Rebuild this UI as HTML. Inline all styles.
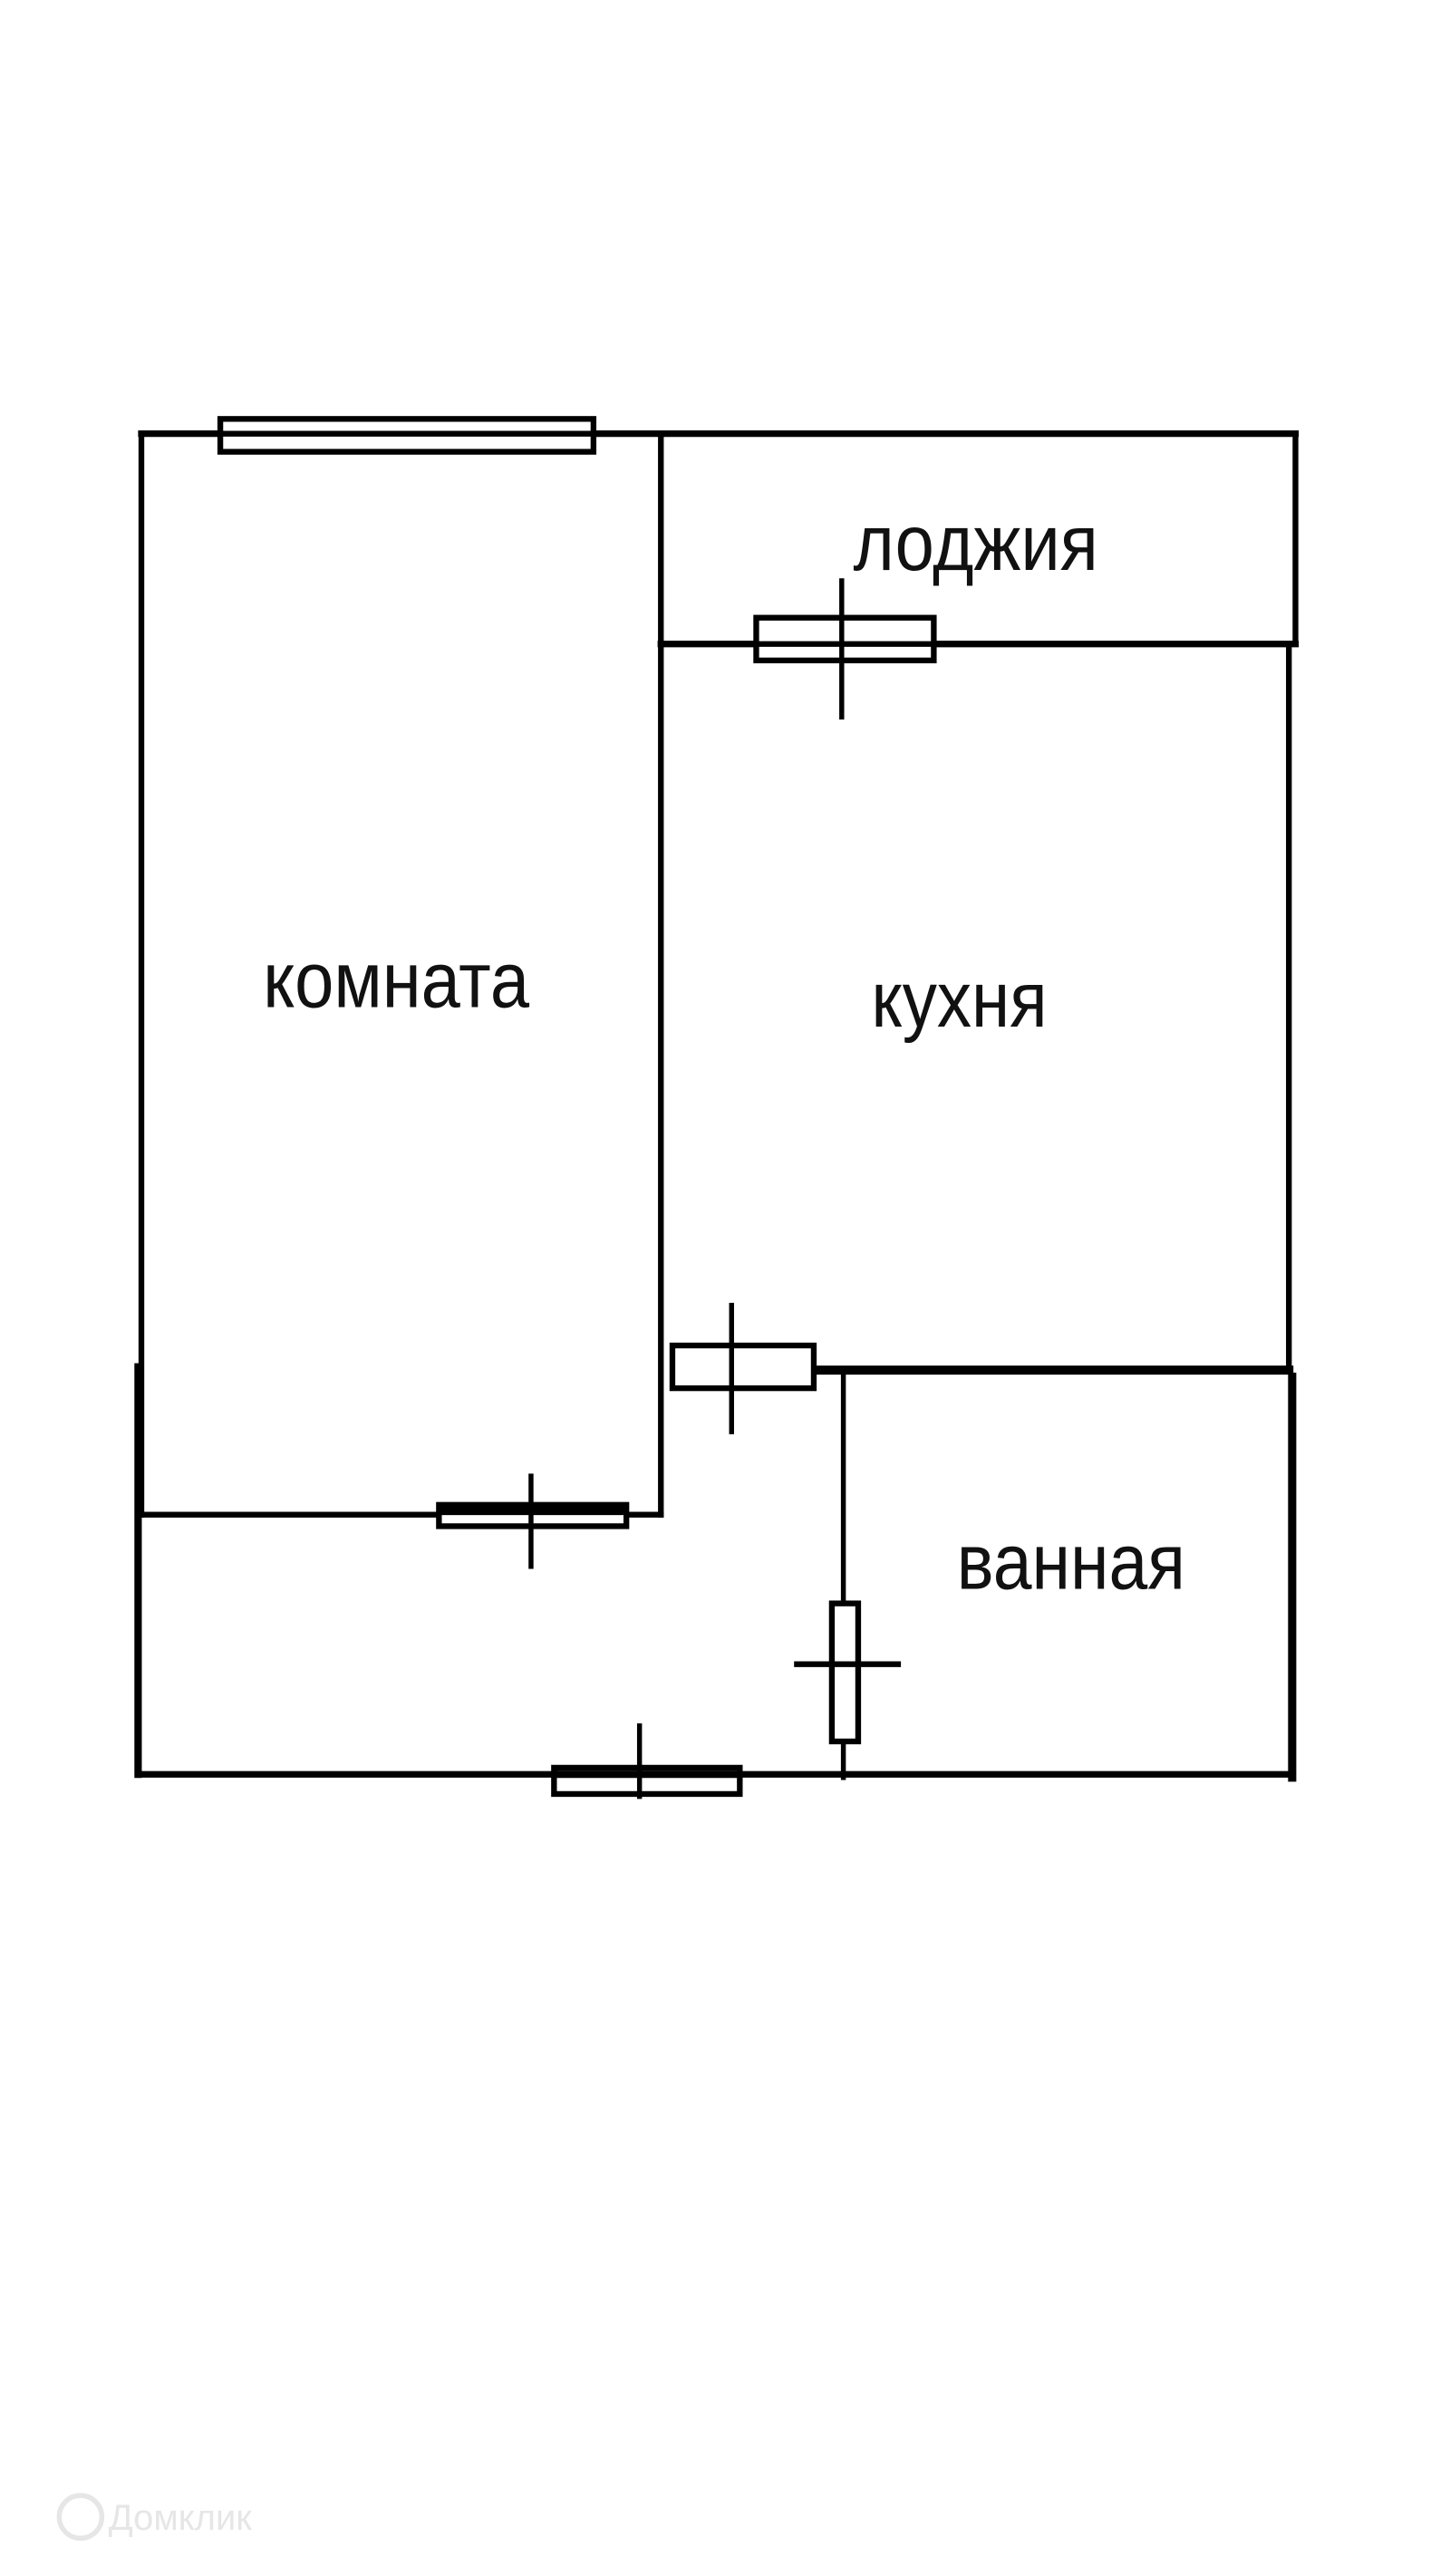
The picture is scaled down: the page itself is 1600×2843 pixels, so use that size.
<!DOCTYPE html>
<html><head><meta charset="utf-8"><style>
html,body{margin:0;padding:0;background:#fff;}
svg{display:block;}
text{font-family:"Liberation Sans",Arial,sans-serif;fill:#111;}
</style></head><body>
<svg width="1600" height="2843" viewBox="0 0 882 1568" preserveAspectRatio="none" xmlns="http://www.w3.org/2000/svg">
<rect width="882" height="1568" fill="#fff"/>
<g stroke="#000" fill="none" stroke-linecap="square">
<line x1="86" y1="264" x2="788" y2="264" stroke-width="4"/>
<line x1="86" y1="264" x2="86" y2="922" stroke-width="3.5"/>
<line x1="84" y1="832" x2="84" y2="1080" stroke-width="4.5"/>
<line x1="402" y1="264" x2="402" y2="922" stroke-width="3.5"/>
<line x1="788" y1="264" x2="788" y2="392" stroke-width="3.5"/>
<line x1="402" y1="392" x2="788" y2="392" stroke-width="4"/>
<line x1="784" y1="392" x2="784" y2="833" stroke-width="3.5"/>
<line x1="495" y1="834" x2="784" y2="834" stroke-width="5.5"/>
<line x1="86" y1="922" x2="402" y2="922" stroke-width="3.5"/>
<line x1="513" y1="838" x2="513" y2="1082" stroke-width="3"/>
<line x1="786" y1="838" x2="786" y2="1082" stroke-width="5"/>
<line x1="84" y1="1080" x2="786" y2="1080" stroke-width="4"/>
</g>
<g stroke="#000" fill="#fff" stroke-width="3.5">
<rect x="134" y="255" width="227" height="20"/>
<line x1="134" y1="264" x2="361" y2="264"/>
<rect x="460" y="376" width="108" height="26"/>
<line x1="460" y1="392" x2="568" y2="392"/>
<line x1="512" y1="352" x2="512" y2="438" stroke-width="3"/>
<rect x="409" y="819" width="86" height="26"/>
<line x1="445" y1="793" x2="445" y2="873" stroke-width="3"/>
<rect x="267" y="916" width="114" height="13"/>
<line x1="267" y1="920" x2="381" y2="920" stroke-width="4.5"/>
<line x1="323" y1="897" x2="323" y2="955" stroke-width="3"/>
<rect x="506" y="976" width="16" height="84"/>
<line x1="483" y1="1013" x2="548" y2="1013" stroke-width="3.5"/>
<rect x="337" y="1076" width="113" height="16"/>
<line x1="337" y1="1080" x2="450" y2="1080" stroke-width="4.5"/>
<line x1="389" y1="1049" x2="389" y2="1095" stroke-width="3"/>
</g>
<text x="519" y="347" font-size="48" textLength="149" lengthAdjust="spacingAndGlyphs">лоджия</text>
<text x="160" y="613" font-size="48" textLength="162" lengthAdjust="spacingAndGlyphs">комната</text>
<text x="530" y="625" font-size="48" textLength="107" lengthAdjust="spacingAndGlyphs">кухня</text>
<text x="582" y="967" font-size="48" textLength="139" lengthAdjust="spacingAndGlyphs">ванная</text>
<text x="66" y="1540" font-size="22" style="fill:#e6e6e6">Домклик</text>
<circle cx="49" cy="1532" r="13" fill="none" stroke="#e6e6e6" stroke-width="3"/>
</svg>
</body></html>
